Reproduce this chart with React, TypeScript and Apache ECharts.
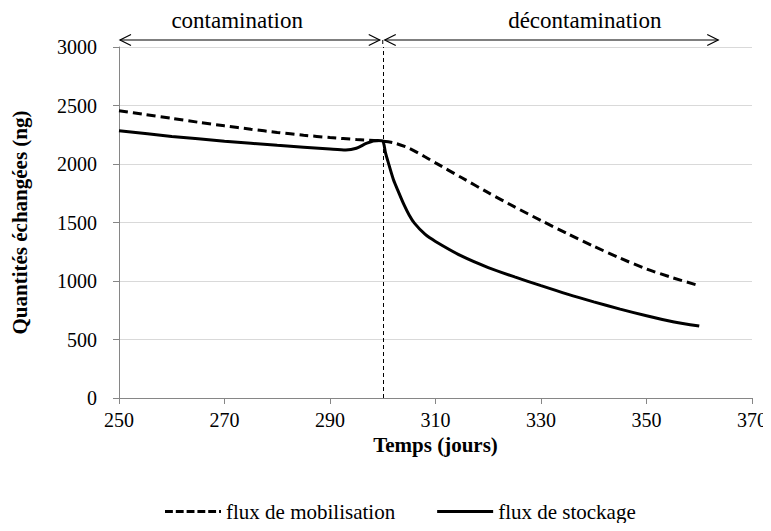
import React, { useEffect, useRef } from "react";
import * as echarts from "echarts";

// Days and exchanged quantities (ng)
const mobilisationDays = [250, 255, 260, 265, 270, 275, 280, 285, 290, 295, 300, 302, 305, 308, 310, 315, 320, 325, 330, 335, 340, 345, 350, 355, 360];
const mobilisationValues = [2455, 2422, 2390, 2357, 2326, 2297, 2270, 2246, 2226, 2209, 2195, 2182, 2135, 2062, 2010, 1882, 1755, 1633, 1517, 1405, 1297, 1195, 1103, 1027, 960];

const stockageDays = [250, 260, 270, 280, 290, 293, 295, 297, 299, 300, 300.5, 301, 302, 303, 304, 305, 306, 308, 310, 315, 320, 325, 330, 335, 340, 345, 350, 355, 360];
const stockageValues = [2285, 2236, 2195, 2160, 2128, 2120, 2135, 2178, 2200, 2195, 2100, 2020, 1870, 1760, 1655, 1565, 1495, 1400, 1338, 1212, 1115, 1035, 960, 888, 822, 760, 703, 652, 615];

const xTicks = [250, 270, 290, 310, 330, 350, 370];
const yMax = 3000;
const phaseSplit = 300;
const phaseEnd = 363.6;
const phaseNames = ["contamination", "décontamination"];
const phaseLabelDays = [272.4, 338.3];
const seriesNames = ["flux de mobilisation", "flux de stockage"];

const serif = "Liberation Serif";

// Legend keys: a dashed stroke ending in a dot, and a plain solid stroke
const dashedKey = "path://M0,0H8V3H0Z M11,0H19V3H11Z M22,0H30V3H22Z M33,0H41V3H33Z M44,0H52V3H44Z M55,0H57V3H55Z";
const solidKey = "path://M0,0H56V3H0Z";

export default function App() {
  const ref = useRef<HTMLDivElement>(null);

  useEffect(() => {
    if (!ref.current) return;
    const chart = echarts.init(ref.current, undefined, { renderer: "svg" });
    const pairs = (xs: number[], ys: number[]) => xs.map((x, i) => [x, ys[i]]);

    chart.setOption({
      animation: false,
      backgroundColor: "#ffffff",
      textStyle: { fontFamily: serif, color: "#000" },
      grid: { left: 111, right: 19, top: 39, bottom: 125, containLabel: false, outerBoundsMode: "none" },
      xAxis: {
        type: "value",
        min: xTicks[0],
        max: xTicks[xTicks.length - 1],
        interval: 20,
        name: "Temps (jours)",
        nameLocation: "middle",
        nameGap: 26,
        nameTextStyle: { fontFamily: serif, fontSize: 21, fontWeight: "bold", color: "#000" },
        axisLine: { lineStyle: { color: "#868686", width: 1 } },
        axisTick: { show: true, length: 6, lineStyle: { color: "#868686" } },
        axisLabel: { fontFamily: serif, fontSize: 20, color: "#000", margin: 12, formatter: (v: number) => String(v) },
        splitLine: { show: false },
      },
      yAxis: {
        type: "value",
        min: 0,
        max: yMax,
        interval: 500,
        name: "Quantités échangées (ng)",
        nameLocation: "middle",
        nameGap: 89,
        nameTextStyle: { fontFamily: serif, fontSize: 21, fontWeight: "bold", color: "#000" },
        axisLine: { show: true, lineStyle: { color: "#868686", width: 1 } },
        axisTick: { show: true, length: 6, lineStyle: { color: "#868686" } },
        axisLabel: { fontFamily: serif, fontSize: 20, color: "#000", margin: 22, formatter: (v: number) => String(v) },
        splitLine: { show: true, lineStyle: { color: "#d9d9d9", width: 1 } },
      },
      legend: {
        top: 493,
        left: 157,
        padding: 0,
        itemWidth: 56,
        itemHeight: 14,
        itemGap: 42,
        symbolKeepAspect: true,
        textStyle: { fontFamily: serif, fontSize: 21, color: "#000" },
        data: [
          { name: seriesNames[0], icon: dashedKey, itemStyle: { color: "#000" } },
          { name: seriesNames[1], icon: solidKey, itemStyle: { color: "#000" } },
        ],
      },
      series: [
        {
          name: seriesNames[0],
          type: "line",
          data: pairs(mobilisationDays, mobilisationValues),
          symbol: "none",
          smooth: 0.25,
          lineStyle: { color: "#000", width: 3, type: [9, 5] },
          itemStyle: { color: "#000" },
          markLine: {
            silent: true,
            symbol: "none",
            label: { show: false },
            lineStyle: { color: "#000", width: 1, type: [4, 3] },
            data: [{ xAxis: phaseSplit }],
          },
          z: 3,
        },
        {
          name: seriesNames[1],
          type: "line",
          data: pairs(stockageDays, stockageValues),
          symbol: "none",
          smooth: 0.25,
          lineStyle: { color: "#000", width: 3, type: "solid" },
          itemStyle: { color: "#000" },
          z: 4,
        },
      ],
    });

    // Phase arrows above the plot, placed from the x axis scale
    const px = (d: number) => chart.convertToPixel({ xAxisIndex: 0 }, d) as number;
    const top = chart.convertToPixel({ yAxisIndex: 0 }, yMax) as number;
    const ay = top - 7;
    const x0 = px(xTicks[0]);
    const x1 = px(phaseSplit);
    const x2 = px(phaseEnd);
    const hx = 11;
    const hy = 5.5;
    const stroke = { stroke: "#000", lineWidth: 1.2, fill: "none" };
    const arrow = (a: number, b: number) => [
      { type: "line", shape: { x1: a, y1: ay, x2: b, y2: ay }, style: stroke },
      { type: "polyline", shape: { points: [[a + hx, ay - hy], [a, ay], [a + hx, ay + hy]] }, style: stroke },
      { type: "polyline", shape: { points: [[b - hx, ay - hy], [b, ay], [b - hx, ay + hy]] }, style: stroke },
    ];
    const phaseLabel = (i: number) => ({
      type: "text",
      x: px(phaseLabelDays[i]),
      y: ay - 20,
      style: { text: phaseNames[i], fontFamily: serif, fontSize: 23, fill: "#000", align: "center", verticalAlign: "middle" },
    });
    chart.setOption({
      graphic: [
        ...arrow(x0 + 1, x1 - 3),
        ...arrow(x1 + 2, x2),
        { type: "line", shape: { x1: x1, y1: ay, x2: x1, y2: top }, style: { stroke: "#000", lineWidth: 1, lineDash: [4, 3] } },
        phaseLabel(0),
        phaseLabel(1),
      ],
    });

    return () => chart.dispose();
  }, []);

  return <div ref={ref} style={{ width: 763, height: 515 }} />;
}
